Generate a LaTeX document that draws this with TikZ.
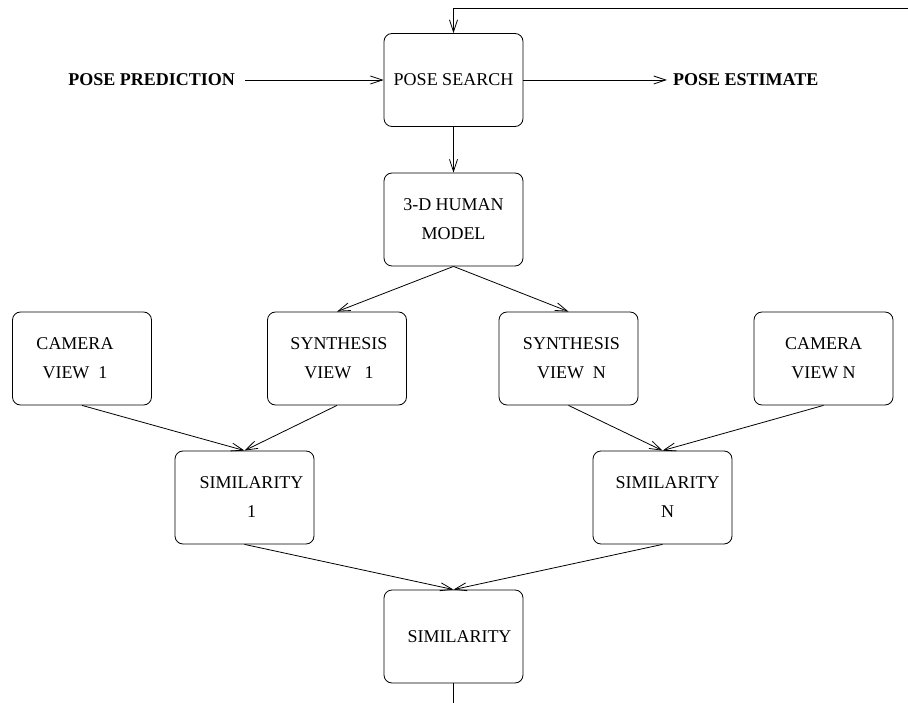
\documentclass[tikz,border=0pt]{standalone}
\usepackage{fontspec}
\setmainfont{Liberation Serif}
\usetikzlibrary{arrows.meta}
\begin{document}
\begin{tikzpicture}[x=1pt,y=-1pt,
 box/.style={draw, rounded corners=8pt, minimum width=139pt, minimum height=93pt, inner sep=0pt, line width=0.8pt},
 txt/.style={font=\fontsize{18}{29}\selectfont, align=center, inner sep=0pt},
 boldtxt/.style={font=\fontsize{18}{29}\selectfont\bfseries, inner ysep=0pt},
 conn/.style={draw, line width=0.8pt, -{Straight Barb[length=12pt,width=8pt]}},
 plain/.style={draw, line width=0.8pt}
]
\useasboundingbox (0,0) rectangle (908,703);
% boxes
\node[box] (ps) at (453.5,80) {};
\node[box] (hm) at (453.5,219.5) {};
\node[box] (c1) at (82,358.5) {};
\node[box] (s1) at (337,358.5) {};
\node[box] (sN) at (568.5,358.5) {};
\node[box] (cN) at (823.5,358.5) {};
\node[box] (m1) at (244.5,497.5) {};
\node[box] (mN) at (662.5,497.5) {};
\node[box] (sim) at (453.5,636.5) {};
% texts
\node[txt] (tps) at (ps.center) {POSE SEARCH};
\node[txt] (thm) at (hm.center) {3-D HUMAN\\MODEL};
\node[txt] (tc1) at ([xshift=-7pt]c1.center) {CAMERA\\VIEW~~1};
\node[txt] (ts1) at ([xshift=2pt]s1.center) {SYNTHESIS\\VIEW~~~1};
\node[txt] (tsN) at ([xshift=3pt]sN.center) {SYNTHESIS\\VIEW~~N};
\node[txt] (tcN) at (cN.center) {CAMERA\\VIEW N};
\node[txt] (tm1) at ([xshift=7pt]m1.center) {SIMILARITY\\1};
\node[txt] (tmN) at ([xshift=5pt]mN.center) {SIMILARITY\\N};
\node[txt] (tsim) at ([xshift=6pt]sim.center) {SIMILARITY};
% side labels
\node[boldtxt, anchor=east, inner xsep=10pt] (pp) at (245,80) {POSE PREDICTION};
\node[boldtxt, anchor=west, inner xsep=6pt] (pe) at (667,80) {POSE ESTIMATE};
% feedback and output ends
\coordinate (fb) at (908,8);
\coordinate (out) at (453.5,703);
% connectors
\draw[conn] (pp.east) -- (ps.west);
\draw[conn] (ps.east) -- (pe.west);
\draw[conn] (fb) -- (ps.north |- fb) -- (ps.north);
\draw[conn] (ps.south) -- (hm.north);
\draw[conn] (hm.south) -- (s1.north);
\draw[conn] (hm.south) -- (sN.north);
\draw[conn] (c1.south) -- (m1.north);
\draw[conn] (s1.south) -- (m1.north);
\draw[conn] (sN.south) -- (mN.north);
\draw[conn] (cN.south) -- (mN.north);
\draw[conn] (m1.south) -- (sim.north);
\draw[conn] (mN.south) -- (sim.north);
\draw[plain] (sim.south) -- (out);
\end{tikzpicture}
\end{document}
